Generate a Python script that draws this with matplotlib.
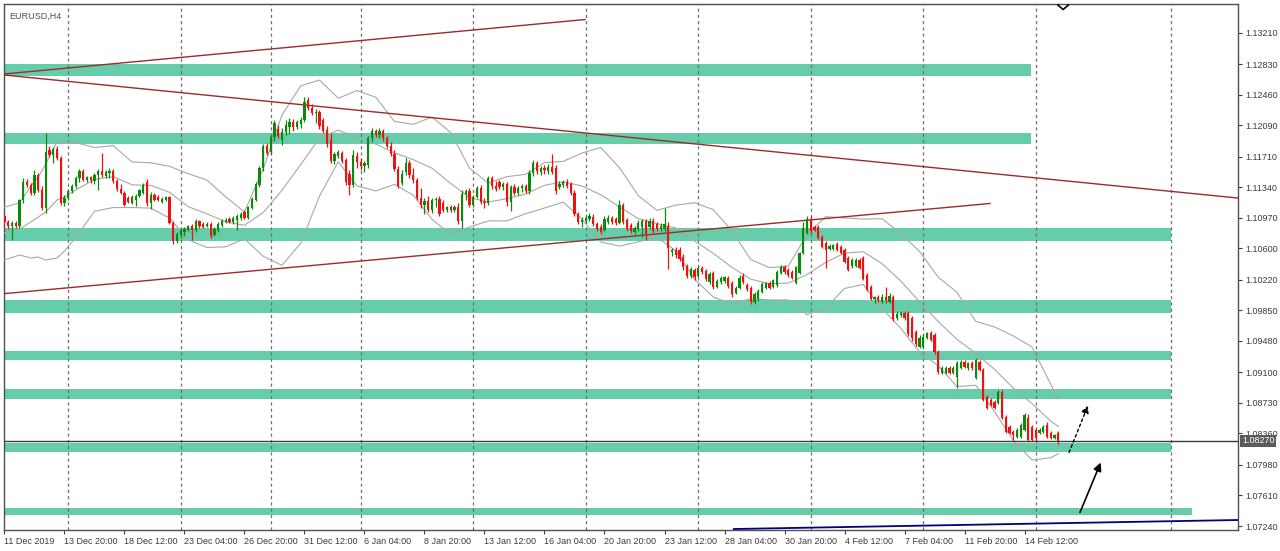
import numpy as np
import matplotlib.pyplot as plt
from matplotlib.patches import Rectangle

plt.rcParams['font.family'] = ['Liberation Sans', 'DejaVu Sans']

# EURUSD H4 - ceny (bar 1 = 11 Dec 2019 04:00, weekendy pominięte)
opens = [
    1.1099, 1.1092, 1.1087, 1.1091, 1.1087, 1.1119, 1.1140, 1.1137, 1.1127, 1.1149,
    1.1131, 1.1109, 1.1179, 1.1173, 1.1180, 1.1169, 1.1115, 1.1121, 1.1129, 1.1135,
    1.1145, 1.1154, 1.1143, 1.1146, 1.1141, 1.1149, 1.1154, 1.1148, 1.1151, 1.1154,
    1.1141, 1.1132, 1.1127, 1.1121, 1.1115, 1.1119, 1.1123, 1.1127, 1.1140, 1.1115,
    1.1125, 1.1122, 1.1116, 1.1119, 1.1122, 1.1091, 1.1069, 1.1076, 1.1080, 1.1082,
    1.1087, 1.1082, 1.1093, 1.1090, 1.1087, 1.1090, 1.1076, 1.1082, 1.1088, 1.1092,
    1.1096, 1.1092, 1.1094, 1.1097, 1.1104, 1.1097, 1.1109, 1.1119, 1.1137, 1.1157,
    1.1184, 1.1177, 1.1195, 1.1204, 1.1191, 1.1201, 1.1207, 1.1213, 1.1207, 1.1211,
    1.1215, 1.1240, 1.1230, 1.1224, 1.1225, 1.1215, 1.1203, 1.1191, 1.1166, 1.1172,
    1.1175, 1.1167, 1.1150, 1.1137, 1.1172, 1.1165, 1.1160, 1.1161, 1.1194, 1.1202,
    1.1197, 1.1202, 1.1194, 1.1184, 1.1174, 1.1156, 1.1139, 1.1152, 1.1163, 1.1149,
    1.1143, 1.1121, 1.1113, 1.1117, 1.1106, 1.1119, 1.1120, 1.1115, 1.1106, 1.1110,
    1.1106, 1.1110, 1.1093, 1.1126, 1.1129, 1.1113, 1.1122, 1.1133, 1.1116, 1.1115,
    1.1145, 1.1135, 1.1140, 1.1134, 1.1138, 1.1116, 1.1134, 1.1127, 1.1133, 1.1135,
    1.1129, 1.1151, 1.1163, 1.1152, 1.1157, 1.1154, 1.1158, 1.1157, 1.1134, 1.1137,
    1.1140, 1.1138, 1.1127, 1.1102, 1.1092, 1.1093, 1.1096, 1.1098, 1.1090, 1.1086,
    1.1082, 1.1092, 1.1097, 1.1096, 1.1091, 1.1113, 1.1094, 1.1088, 1.1080, 1.1083,
    1.1086, 1.1093, 1.1086, 1.1093, 1.1090, 1.1083, 1.1083, 1.1087, 1.1056, 1.1058,
    1.1058, 1.1050, 1.1039, 1.1027, 1.1034, 1.1027, 1.1036, 1.1033, 1.1019, 1.1030,
    1.1013, 1.1019, 1.1021, 1.1024, 1.1018, 1.1006, 1.1012, 1.1027, 1.1016, 1.1012,
    1.0995, 1.0999, 1.1007, 1.1012, 1.1018, 1.1013, 1.1016, 1.1030, 1.1037, 1.1034,
    1.1031, 1.1018, 1.1030, 1.1054, 1.1079, 1.1096, 1.1086, 1.1086, 1.1074, 1.1067,
    1.1059, 1.1059, 1.1065, 1.1062, 1.1058, 1.1048, 1.1039, 1.1039, 1.1046, 1.1048,
    1.1028, 1.1013, 1.0999, 1.1001, 1.0995, 1.1001, 1.0995, 1.1001, 1.0976, 1.0979,
    1.0982, 1.0982, 1.0976, 1.0959, 1.0941, 1.0941, 1.0952, 1.0958, 1.0955, 1.0935,
    1.0909, 1.0909, 1.0915, 1.0909, 1.0904, 1.0915, 1.0923, 1.0915, 1.0921, 1.0903,
    1.0923, 1.0913, 1.0880, 1.0877, 1.0874, 1.0873, 1.0886, 1.0856, 1.0844, 1.0838,
    1.0832, 1.0832, 1.0840, 1.0855, 1.0844, 1.0840, 1.0837, 1.0838, 1.0846, 1.0837,
    1.0831, 1.0837,
]
highs = [
    1.1102, 1.1094, 1.1093, 1.1093, 1.1120, 1.1145, 1.1144, 1.1139, 1.1155, 1.1151,
    1.1135, 1.1200, 1.1184, 1.1183, 1.1184, 1.1172, 1.1125, 1.1132, 1.1138, 1.1148,
    1.1156, 1.1156, 1.1148, 1.1148, 1.1151, 1.1156, 1.1175, 1.1155, 1.1157, 1.1156,
    1.1144, 1.1138, 1.1129, 1.1123, 1.1125, 1.1126, 1.1132, 1.1139, 1.1144, 1.1128,
    1.1127, 1.1125, 1.1122, 1.1123, 1.1123, 1.1093, 1.1080, 1.1083, 1.1086, 1.1088,
    1.1090, 1.1096, 1.1094, 1.1092, 1.1092, 1.1092, 1.1086, 1.1092, 1.1096, 1.1097,
    1.1098, 1.1099, 1.1102, 1.1104, 1.1106, 1.1111, 1.1122, 1.1140, 1.1160, 1.1186,
    1.1188, 1.1197, 1.1215, 1.1209, 1.1206, 1.1215, 1.1218, 1.1217, 1.1215, 1.1219,
    1.1243, 1.1243, 1.1235, 1.1229, 1.1227, 1.1218, 1.1208, 1.1200, 1.1177, 1.1179,
    1.1178, 1.1169, 1.1155, 1.1179, 1.1177, 1.1169, 1.1166, 1.1196, 1.1206, 1.1204,
    1.1206, 1.1204, 1.1196, 1.1189, 1.1179, 1.1160, 1.1155, 1.1169, 1.1167, 1.1157,
    1.1145, 1.1133, 1.1121, 1.1123, 1.1121, 1.1122, 1.1123, 1.1119, 1.1111, 1.1113,
    1.1113, 1.1115, 1.1131, 1.1132, 1.1133, 1.1125, 1.1135, 1.1137, 1.1121, 1.1148,
    1.1148, 1.1141, 1.1143, 1.1140, 1.1140, 1.1137, 1.1138, 1.1135, 1.1138, 1.1138,
    1.1155, 1.1167, 1.1166, 1.1160, 1.1161, 1.1162, 1.1174, 1.1161, 1.1141, 1.1143,
    1.1144, 1.1140, 1.1131, 1.1104, 1.1098, 1.1100, 1.1103, 1.1102, 1.1092, 1.1090,
    1.1099, 1.1100, 1.1099, 1.1098, 1.1119, 1.1115, 1.1097, 1.1091, 1.1087, 1.1094,
    1.1096, 1.1096, 1.1097, 1.1097, 1.1092, 1.1091, 1.1109, 1.1092, 1.1060, 1.1062,
    1.1062, 1.1053, 1.1041, 1.1037, 1.1036, 1.1039, 1.1039, 1.1035, 1.1031, 1.1033,
    1.1023, 1.1027, 1.1027, 1.1027, 1.1021, 1.1014, 1.1028, 1.1030, 1.1018, 1.1014,
    1.1007, 1.1011, 1.1019, 1.1019, 1.1021, 1.1023, 1.1034, 1.1040, 1.1040, 1.1036,
    1.1034, 1.1039, 1.1056, 1.1092, 1.1099, 1.1099, 1.1088, 1.1088, 1.1076, 1.1069,
    1.1065, 1.1065, 1.1068, 1.1064, 1.1060, 1.1051, 1.1048, 1.1048, 1.1048, 1.1051,
    1.1030, 1.1016, 1.1002, 1.1004, 1.1005, 1.1013, 1.1006, 1.1004, 1.0984, 1.0984,
    1.0984, 1.0984, 1.0978, 1.0961, 1.0955, 1.0956, 1.0959, 1.0960, 1.0958, 1.0937,
    1.0918, 1.0918, 1.0918, 1.0918, 1.0924, 1.0925, 1.0925, 1.0923, 1.0924, 1.0927,
    1.0925, 1.0915, 1.0883, 1.0879, 1.0877, 1.0889, 1.0889, 1.0858, 1.0846, 1.0840,
    1.0843, 1.0849, 1.0861, 1.0860, 1.0846, 1.0843, 1.0843, 1.0846, 1.0850, 1.0839,
    1.0835, 1.0839,
]
lows = [
    1.1090, 1.1083, 1.1070, 1.1085, 1.1085, 1.1115, 1.1134, 1.1125, 1.1125, 1.1128,
    1.1106, 1.1103, 1.1171, 1.1163, 1.1167, 1.1113, 1.1111, 1.1119, 1.1127, 1.1133,
    1.1140, 1.1141, 1.1140, 1.1139, 1.1138, 1.1131, 1.1146, 1.1145, 1.1145, 1.1139,
    1.1129, 1.1126, 1.1111, 1.1115, 1.1114, 1.1111, 1.1122, 1.1126, 1.1111, 1.1108,
    1.1117, 1.1117, 1.1115, 1.1117, 1.1090, 1.1065, 1.1067, 1.1073, 1.1075, 1.1081,
    1.1070, 1.1080, 1.1085, 1.1085, 1.1086, 1.1073, 1.1075, 1.1080, 1.1086, 1.1091,
    1.1091, 1.1090, 1.1082, 1.1094, 1.1096, 1.1096, 1.1108, 1.1117, 1.1134, 1.1154,
    1.1173, 1.1174, 1.1190, 1.1194, 1.1185, 1.1197, 1.1198, 1.1202, 1.1204, 1.1206,
    1.1213, 1.1227, 1.1221, 1.1212, 1.1204, 1.1200, 1.1183, 1.1163, 1.1162, 1.1169,
    1.1163, 1.1137, 1.1125, 1.1134, 1.1157, 1.1155, 1.1152, 1.1157, 1.1189, 1.1195,
    1.1194, 1.1190, 1.1181, 1.1172, 1.1154, 1.1133, 1.1137, 1.1149, 1.1145, 1.1139,
    1.1119, 1.1109, 1.1102, 1.1104, 1.1103, 1.1110, 1.1099, 1.1104, 1.1104, 1.1104,
    1.1104, 1.1090, 1.1085, 1.1119, 1.1110, 1.1110, 1.1121, 1.1114, 1.1109, 1.1113,
    1.1132, 1.1129, 1.1132, 1.1131, 1.1111, 1.1105, 1.1125, 1.1125, 1.1128, 1.1127,
    1.1126, 1.1148, 1.1150, 1.1149, 1.1150, 1.1150, 1.1150, 1.1126, 1.1132, 1.1134,
    1.1133, 1.1125, 1.1099, 1.1090, 1.1086, 1.1091, 1.1093, 1.1087, 1.1081, 1.1077,
    1.1081, 1.1090, 1.1090, 1.1088, 1.1090, 1.1090, 1.1081, 1.1079, 1.1077, 1.1081,
    1.1074, 1.1070, 1.1083, 1.1079, 1.1081, 1.1081, 1.1081, 1.1035, 1.1051, 1.1048,
    1.1045, 1.1034, 1.1024, 1.1024, 1.1022, 1.1025, 1.1029, 1.1021, 1.1017, 1.1011,
    1.1012, 1.1017, 1.1018, 1.1012, 1.1001, 1.1005, 1.1011, 1.1017, 1.1008, 1.0993,
    1.0993, 1.0996, 1.1006, 1.1011, 1.1011, 1.1012, 1.1013, 1.1029, 1.1029, 1.1025,
    1.1023, 1.1017, 1.1029, 1.1053, 1.1077, 1.1079, 1.1081, 1.1071, 1.1060, 1.1036,
    1.1058, 1.1058, 1.1057, 1.1053, 1.1042, 1.1033, 1.1036, 1.1037, 1.1035, 1.1022,
    1.1008, 1.0998, 1.0994, 1.0995, 1.0994, 1.0994, 1.0994, 1.0972, 1.0973, 1.0977,
    1.0973, 1.0954, 1.0948, 1.0942, 1.0939, 1.0939, 1.0950, 1.0948, 1.0932, 1.0908,
    1.0908, 1.0908, 1.0908, 1.0908, 1.0891, 1.0914, 1.0915, 1.0913, 1.0913, 1.0902,
    1.0912, 1.0875, 1.0866, 1.0869, 1.0866, 1.0872, 1.0854, 1.0837, 1.0835, 1.0827,
    1.0831, 1.0831, 1.0839, 1.0827, 1.0827, 1.0827, 1.0835, 1.0837, 1.0831, 1.0829,
    1.0829, 1.0823,
]
closes = [
    1.1092, 1.1087, 1.1091, 1.1087, 1.1119, 1.1140, 1.1137, 1.1127, 1.1149, 1.1131,
    1.1109, 1.1177, 1.1173, 1.1180, 1.1169, 1.1115, 1.1121, 1.1129, 1.1135, 1.1145,
    1.1154, 1.1143, 1.1146, 1.1143, 1.1149, 1.1154, 1.1149, 1.1152, 1.1154, 1.1141,
    1.1132, 1.1127, 1.1113, 1.1116, 1.1122, 1.1123, 1.1131, 1.1137, 1.1115, 1.1125,
    1.1119, 1.1119, 1.1120, 1.1122, 1.1091, 1.1069, 1.1077, 1.1082, 1.1083, 1.1087,
    1.1082, 1.1093, 1.1087, 1.1086, 1.1090, 1.1075, 1.1083, 1.1090, 1.1093, 1.1094,
    1.1092, 1.1097, 1.1099, 1.1102, 1.1097, 1.1110, 1.1120, 1.1138, 1.1157, 1.1184,
    1.1175, 1.1195, 1.1212, 1.1196, 1.1201, 1.1209, 1.1213, 1.1207, 1.1213, 1.1215,
    1.1237, 1.1230, 1.1224, 1.1225, 1.1208, 1.1202, 1.1186, 1.1166, 1.1174, 1.1177,
    1.1166, 1.1140, 1.1137, 1.1173, 1.1165, 1.1160, 1.1163, 1.1194, 1.1202, 1.1197,
    1.1202, 1.1194, 1.1184, 1.1174, 1.1156, 1.1135, 1.1150, 1.1163, 1.1149, 1.1143,
    1.1121, 1.1113, 1.1117, 1.1106, 1.1119, 1.1120, 1.1102, 1.1106, 1.1110, 1.1106,
    1.1110, 1.1093, 1.1126, 1.1129, 1.1113, 1.1122, 1.1133, 1.1116, 1.1115, 1.1145,
    1.1135, 1.1132, 1.1134, 1.1138, 1.1116, 1.1134, 1.1127, 1.1133, 1.1135, 1.1129,
    1.1151, 1.1163, 1.1154, 1.1157, 1.1155, 1.1158, 1.1152, 1.1129, 1.1138, 1.1140,
    1.1135, 1.1127, 1.1102, 1.1092, 1.1094, 1.1097, 1.1099, 1.1090, 1.1083, 1.1080,
    1.1096, 1.1097, 1.1092, 1.1091, 1.1113, 1.1092, 1.1083, 1.1081, 1.1085, 1.1091,
    1.1093, 1.1077, 1.1093, 1.1081, 1.1083, 1.1087, 1.1090, 1.1060, 1.1058, 1.1052,
    1.1047, 1.1037, 1.1027, 1.1035, 1.1025, 1.1036, 1.1031, 1.1023, 1.1029, 1.1013,
    1.1021, 1.1024, 1.1025, 1.1014, 1.1005, 1.1012, 1.1024, 1.1019, 1.1011, 1.0995,
    1.1005, 1.1008, 1.1017, 1.1018, 1.1012, 1.1022, 1.1031, 1.1037, 1.1031, 1.1028,
    1.1024, 1.1037, 1.1054, 1.1085, 1.1096, 1.1081, 1.1082, 1.1073, 1.1062, 1.1058,
    1.1063, 1.1064, 1.1058, 1.1054, 1.1044, 1.1034, 1.1046, 1.1046, 1.1036, 1.1023,
    1.1010, 1.0999, 1.1001, 1.0998, 1.1001, 1.0998, 1.1002, 1.0975, 1.0981, 1.0982,
    1.0976, 1.0956, 1.0952, 1.0944, 1.0952, 1.0953, 1.0958, 1.0949, 1.0935, 1.0910,
    1.0915, 1.0915, 1.0909, 1.0915, 1.0921, 1.0923, 1.0916, 1.0921, 1.0915, 1.0925,
    1.0913, 1.0877, 1.0867, 1.0871, 1.0867, 1.0886, 1.0855, 1.0838, 1.0837, 1.0834,
    1.0840, 1.0846, 1.0858, 1.0828, 1.0828, 1.0831, 1.0840, 1.0844, 1.0832, 1.0831,
    1.0834, 1.0827,
]

# wstęgi Bollingera (co kilka świec)
bb_bars = [1, 5, 8, 10, 12, 15, 17, 20, 25, 30, 35, 40, 45, 50, 55, 60, 65, 70, 75, 80,
           85, 90, 95, 100, 105, 110, 115, 120, 125, 130, 135, 140, 145, 150, 155, 160,
           165, 170, 175, 180, 185, 190, 195, 200, 205, 210, 215, 220, 225, 230, 235,
           240, 245, 250, 255, 260, 265, 270, 275, 280, 282]
bb_upper = [1.11100, 1.11149, 1.11354, 1.11463, 1.11621, 1.11887, 1.11875, 1.11880,
            1.11821, 1.11843, 1.11645, 1.11636, 1.11593, 1.11504, 1.11426, 1.11223,
            1.11042, 1.11564, 1.12214, 1.12567, 1.12636, 1.12417, 1.12510, 1.12429,
            1.12136, 1.12101, 1.12189, 1.12002, 1.11572, 1.11390, 1.11468, 1.11496,
            1.11638, 1.11653, 1.11754, 1.11821, 1.11576, 1.11238, 1.11060, 1.11123,
            1.11152, 1.11068, 1.10812, 1.10464, 1.10367, 1.10384, 1.10770, 1.10984,
            1.10968, 1.10955, 1.10959, 1.10780, 1.10563, 1.10251, 1.10068, 1.09717,
            1.09650, 1.09541, 1.09406, 1.08955, 1.08777]
bb_mid = [1.10786, 1.10834, 1.10919, 1.10979, 1.11040, 1.11185, 1.11221, 1.11306,
          1.11435, 1.11469, 1.11369, 1.11362, 1.11279, 1.11104, 1.11018, 1.10921,
          1.10879, 1.11034, 1.11304, 1.11615, 1.11934, 1.12032, 1.11933, 1.11862,
          1.11755, 1.11673, 1.11570, 1.11385, 1.11215, 1.11161, 1.11201, 1.11258,
          1.11363, 1.11406, 1.11354, 1.11249, 1.11102, 1.10959, 1.10898, 1.10847,
          1.10689, 1.10540, 1.10370, 1.10227, 1.10172, 1.10180, 1.10284, 1.10431,
          1.10542, 1.10559, 1.10415, 1.10206, 1.09954, 1.09714, 1.09498, 1.09330,
          1.09137, 1.08910, 1.08722, 1.08510, 1.08446]
bb_lower = [1.10459, 1.10520, 1.10483, 1.10495, 1.10459, 1.10483, 1.10568, 1.10732,
            1.11049, 1.11094, 1.11094, 1.11087, 1.10966, 1.10703, 1.10610, 1.10619,
            1.10716, 1.10504, 1.10395, 1.10663, 1.11232, 1.11647, 1.11356, 1.11295,
            1.11374, 1.11244, 1.10951, 1.10768, 1.10858, 1.10932, 1.10933, 1.11020,
            1.11088, 1.11160, 1.10954, 1.10676, 1.10628, 1.10679, 1.10735, 1.10570,
            1.10226, 1.10011, 1.09927, 1.09991, 1.09976, 1.09976, 1.09797, 1.09877,
            1.10115, 1.10164, 1.09872, 1.09633, 1.09346, 1.09178, 1.08928, 1.08943,
            1.08625, 1.08279, 1.08038, 1.08066, 1.08115]

# oś czasu (numery świec)
label_bars = [1, 17, 33, 49, 65, 81, 97, 113, 129, 145, 161, 177, 193, 209, 225, 241, 257, 273]
label_texts = ['11 Dec 2019', '13 Dec 20:00', '18 Dec 12:00', '23 Dec 04:00', '26 Dec 20:00',
               '31 Dec 12:00', '6 Jan 04:00', '8 Jan 20:00', '13 Jan 12:00', '16 Jan 04:00',
               '20 Jan 20:00', '23 Jan 12:00', '28 Jan 04:00', '30 Jan 20:00', '4 Feb 12:00',
               '7 Feb 04:00', '11 Feb 20:00', '14 Feb 12:00']
week_bars = [18, 48, 72, 96, 126, 156, 186, 216, 246, 276, 312]

price_ticks = [1.13210, 1.12830, 1.12460, 1.12090, 1.11710, 1.11340, 1.10970, 1.10600,
               1.10220, 1.09850, 1.09480, 1.09100, 1.08730, 1.08360, 1.07980, 1.07610, 1.07240]

# strefy wsparcia / oporu
zone_low = [1.12685, 1.11863, 1.10693, 1.09814, 1.09249, 1.08773, 1.08139, 1.07373]
zone_high = [1.12831, 1.11992, 1.10846, 1.09975, 1.09362, 1.08894, 1.08241, 1.07455]
zone_end = [274.7, 274.7, 312.1, 312.1, 312.1, 312.1, 312.1, 317.7]

# linie trendu: (bar0, bar1), (cena0, cena1)
trend_bars = [(0.87, 155.8), (0.87, 329.9), (0.87, 263.8)]
trend_prices = [(1.12710, 1.13369), (1.12698, 1.11209), (1.10052, 1.11143)]
blue_bars = (195.5, 329.9)
blue_prices = (1.07204, 1.07313)

last_price = 1.08270

bars = np.arange(1, len(closes) + 1)
o = np.array(opens); h = np.array(highs); l = np.array(lows); c = np.array(closes)

fig = plt.figure(figsize=(12.8, 5.51), dpi=100)
ax = fig.add_axes([4 / 1280, 21 / 551, 1234 / 1280, 526 / 551])
x0, x1 = 0.87, 329.93
ax.set_xlim(x0, x1)
ax.set_ylim(1.07192, 1.13557)

# strefy
for lo, hi, end in zip(zone_low, zone_high, zone_end):
    ax.add_patch(Rectangle((x0, lo), end - x0, hi - lo, facecolor='#66cdaa',
                           edgecolor='none', zorder=1))

# siatka tygodniowa
for wb in week_bars:
    ax.axvline(wb, color='#6e6e6e', lw=0.9, ls=(0, (2.5, 2.5)), zorder=2)

# wstęgi Bollingera
for band in (bb_upper, bb_mid, bb_lower):
    ax.plot(bb_bars, band, color='#a8a8a8', lw=0.8, zorder=3)

# linie trendu
for (b0, b1), (p0, p1) in zip(trend_bars, trend_prices):
    ax.plot([b0, b1], [p0, p1], color='#9b2b2b', lw=1.0, zorder=3)
ax.plot(blue_bars, blue_prices, color='#000080', lw=1.3, zorder=3)

# świece
up = c >= o
col = np.where(up, '#0a8a0a', '#f01010')
ax.vlines(bars, l, h, colors=col, lw=0.9, zorder=4)
body_lo = np.minimum(o, c)
body_h = np.maximum(np.abs(c - o), 0.00008)
ax.bar(bars, body_h, bottom=body_lo, width=0.62, color=col, lw=0, zorder=5)

# linia ceny bid
ax.axhline(last_price, color='#3c3c3c', lw=1.0, zorder=6)
ax.annotate(f'{last_price:.5f}', xy=(1, last_price), xycoords=('axes fraction', 'data'),
            xytext=(3, 0), textcoords='offset points', va='center', ha='left',
            fontsize=6.5, color='white', annotation_clip=False,
            bbox=dict(boxstyle='square,pad=0.2', fc='#5a5a5a', ec='none'), zorder=10)

# strzałki
ax.annotate('', xy=(293.6, 1.08039), xytext=(287.5, 1.07373),
            arrowprops=dict(arrowstyle='-|>', color='black', lw=1.2, mutation_scale=12), zorder=7)
ax.annotate('', xy=(290.2, 1.08729), xytext=(284.6, 1.08099),
            arrowprops=dict(arrowstyle='-|>', color='black', lw=1.0, ls=(0, (2, 2)),
                            mutation_scale=11), zorder=7)
ax.plot([281.9, 283.3, 284.7], [1.13545, 1.13490, 1.13545], color='black', lw=1.2,
        zorder=7, clip_on=False)

ax.text(0.004, 0.985, 'EURUSD,H4', transform=ax.transAxes, va='top', ha='left',
        fontsize=6.5, color='#505050')

# osie
ax.yaxis.tick_right()
ax.set_yticks(price_ticks)
ax.set_yticklabels([f'{p:.5f}' for p in price_ticks])
ax.set_xticks(label_bars)
ax.set_xticklabels(label_texts, ha='left')
ax.tick_params(axis='both', labelsize=6.5, colors='#3c3c3c', length=3, width=0.8, pad=2)
for s in ax.spines.values():
    s.set_color('#505050')
    s.set_linewidth(1.0)

fig.savefig('out.png', dpi=100)
